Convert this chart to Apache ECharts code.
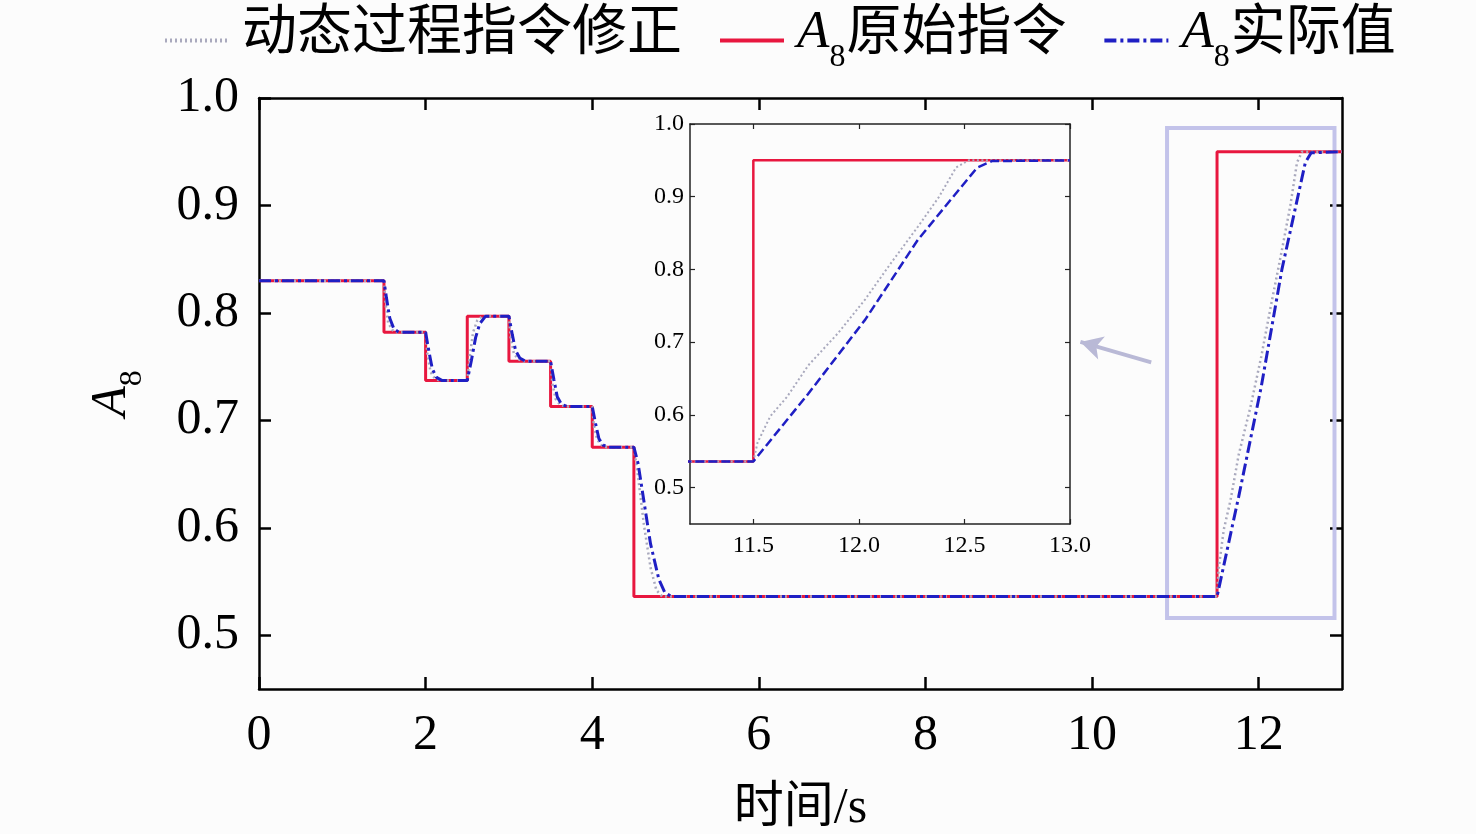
<!DOCTYPE html>
<html>
<head>
<meta charset="utf-8">
<script src="https://cdn.jsdelivr.net/npm/echarts@6/dist/echarts.min.js"></script>
<style>
html,body{margin:0;padding:0;background:#fcfcfc;overflow:hidden;}
#c{width:1476px;height:834px;}
</style>
</head>
<body>
<div id="c"></div>
<script>
// ---- data ----
var seriesNames = ['动态过程指令修正', 'A8原始指令', 'A8实际值'];
var xTicksMain = [0, 2, 4, 6, 8, 10, 12];
var yTicksMain = [0.5, 0.6, 0.7, 0.8, 0.9, 1.0];
var xTicksInset = [11.5, 12.0, 12.5, 13.0];
var yTicksInset = [0.5, 0.6, 0.7, 0.8, 0.9, 1.0];

var commandOriginal = [
  [0, 0.83], [1.5, 0.83], [1.5, 0.782], [2.0, 0.782], [2.0, 0.737],
  [2.5, 0.737], [2.5, 0.797], [3.0, 0.797], [3.0, 0.755], [3.5, 0.755],
  [3.5, 0.713], [4.0, 0.713], [4.0, 0.675], [4.5, 0.675], [4.5, 0.536],
  [11.5, 0.536], [11.5, 0.95], [13.0, 0.95]
];

var commandCorrected = [
  [0, 0.83], [1.5, 0.83], [1.52, 0.808], [1.55, 0.791], [1.6, 0.784], [1.65, 0.782],
  [2.0, 0.782], [2.02, 0.762], [2.06, 0.745], [2.11, 0.739], [2.17, 0.737],
  [2.5, 0.737], [2.53, 0.76], [2.57, 0.782], [2.62, 0.793], [2.68, 0.797],
  [3.0, 0.797], [3.02, 0.777], [3.06, 0.762], [3.11, 0.757], [3.17, 0.755],
  [3.5, 0.755], [3.52, 0.735], [3.56, 0.72], [3.61, 0.715], [3.67, 0.713],
  [4.0, 0.713], [4.02, 0.695], [4.06, 0.682], [4.11, 0.677], [4.17, 0.675],
  [4.5, 0.675], [4.55, 0.648], [4.62, 0.603], [4.7, 0.563], [4.77, 0.542], [4.84, 0.536],
  [11.5, 0.536], [11.52, 0.562], [11.58, 0.598], [11.66, 0.625], [11.76, 0.668],
  [11.9, 0.712], [12.03, 0.759], [12.15, 0.808], [12.28, 0.859], [12.38, 0.9],
  [12.46, 0.94], [12.52, 0.95], [13.0, 0.95]
];

var actualValue = [
  [0, 0.83], [1.5, 0.83], [1.53, 0.814], [1.57, 0.795], [1.62, 0.785], [1.68, 0.782],
  [2.0, 0.782], [2.04, 0.764], [2.08, 0.748], [2.13, 0.740], [2.2, 0.737],
  [2.5, 0.737], [2.55, 0.756], [2.6, 0.777], [2.65, 0.790], [2.72, 0.797],
  [3.0, 0.797], [3.04, 0.780], [3.08, 0.765], [3.13, 0.758], [3.2, 0.755],
  [3.5, 0.755], [3.54, 0.738], [3.58, 0.722], [3.63, 0.715], [3.7, 0.713],
  [4.0, 0.713], [4.04, 0.697], [4.08, 0.683], [4.13, 0.677], [4.2, 0.675],
  [4.5, 0.675], [4.55, 0.660], [4.6, 0.635], [4.7, 0.585], [4.8, 0.552], [4.87, 0.540], [4.95, 0.536],
  [11.5, 0.536], [11.76, 0.629], [12.03, 0.731], [12.28, 0.841], [12.56, 0.940],
  [12.63, 0.949], [13.0, 0.95]
];

// ---- styles ----
var SERIF = "'Liberation Serif','Times New Roman','Noto Sans CJK SC',serif";
var RED = '#e8173f';
var BLUE = '#1f1fc4';
var GRAY = '#a9a9bd';

function nameRich(name) {
  if (name.indexOf('A8') === 0) {
    return '{g|}{i|A}{s|8}{c|' + name.slice(2) + '}';
  }
  return '{g|}{c|' + name + '}';
}

var chart = echarts.init(document.getElementById('c'));

function mainAxisX(pos, showLabel) {
  return {
    type: 'value', gridIndex: 0, position: pos, min: 0, max: 13,
    axisLine: {show: true, onZero: false, lineStyle: {color: '#000', width: 2.5}},
    axisTick: {show: true, inside: true, length: 12, lineStyle: {color: '#000', width: 2.5}, customValues: xTicksMain},
    axisLabel: {show: showLabel, customValues: xTicksMain, margin: 22, color: '#000', fontSize: 50, fontFamily: SERIF},
    splitLine: {show: false},
    name: showLabel ? '时间/s' : '', nameLocation: 'middle', nameGap: 95,
    nameTextStyle: {color: '#000', fontSize: 50, fontFamily: SERIF}
  };
}
function mainAxisY(pos, showLabel) {
  return {
    type: 'value', gridIndex: 0, position: pos, min: 0.45, max: 1.0,
    axisLine: {show: true, onZero: false, lineStyle: {color: '#000', width: 2.5}},
    axisTick: {show: true, inside: true, length: 12, lineStyle: {color: '#000', width: 2.5}, customValues: yTicksMain},
    axisLabel: {show: showLabel, customValues: yTicksMain, margin: 20, color: '#000', fontSize: 50, fontFamily: SERIF,
      formatter: function (v) { return v.toFixed(1); }},
    splitLine: {show: false},
    name: showLabel ? '{i|A}{s|8}' : '', nameLocation: 'middle', nameGap: 110, nameRotate: 90,
    nameTextStyle: {rich: {
      i: {fontSize: 50, fontStyle: 'italic', fontFamily: SERIF, color: '#000', verticalAlign: 'bottom', padding: [0, 0, 12, 0]},
      s: {fontSize: 32, fontFamily: SERIF, color: '#000', verticalAlign: 'bottom'}
    }}
  };
}
function insetAxisX(pos, showLabel) {
  return {
    type: 'value', gridIndex: 1, position: pos, min: 11.2, max: 13.0,
    axisLine: {show: true, onZero: false, lineStyle: {color: '#222', width: 1.5}},
    axisTick: {show: true, inside: true, length: 5, lineStyle: {color: '#222', width: 1.2}, customValues: xTicksInset},
    axisLabel: {show: showLabel, customValues: xTicksInset, margin: 10, color: '#000', fontSize: 24, fontFamily: SERIF,
      formatter: function (v) { return v.toFixed(1); }},
    splitLine: {show: false}
  };
}
function insetAxisY(pos, showLabel) {
  return {
    type: 'value', gridIndex: 1, position: pos, min: 0.45, max: 1.0,
    axisLine: {show: true, onZero: false, lineStyle: {color: '#222', width: 1.5}},
    axisTick: {show: true, inside: true, length: 5, lineStyle: {color: '#222', width: 1.2}, customValues: yTicksInset},
    axisLabel: {show: showLabel, customValues: yTicksInset, margin: 6, color: '#000', fontSize: 24, fontFamily: SERIF,
      formatter: function (v) { return v.toFixed(1); }},
    splitLine: {show: false}
  };
}

function lineSeries(name, data, style, xi, yi, extra) {
  var s = {
    name: name, type: 'line', data: data, xAxisIndex: xi, yAxisIndex: yi,
    showSymbol: false, symbol: 'none', animation: false, clip: true,
    lineStyle: style, itemStyle: {color: style.color}, z: 2
  };
  if (extra) { for (var k in extra) s[k] = extra[k]; }
  return s;
}

var styleGray = {color: GRAY, width: 2.5, type: [2, 3]};
var styleRed = {color: RED, width: 3, type: 'solid'};
var styleBlue = {color: BLUE, width: 3, type: [12, 4, 3, 4]};
var styleGrayIn = {color: GRAY, width: 2, type: [2, 2.5]};
var styleRedIn = {color: RED, width: 2.5, type: 'solid'};
var styleBlueIn = {color: BLUE, width: 2.5, type: [9, 4]};

var option = {
  backgroundColor: '#fcfcfc',
  animation: false,
  legend: {
    top: 2, left: 158, itemWidth: 64, itemHeight: 20, itemGap: 36,
    data: seriesNames,
    formatter: nameRich,
    itemStyle: {opacity: 0},
    lineStyle: {width: 4},
    textStyle: {rich: {
      g: {width: 8},
      c: {fontSize: 55, fontFamily: SERIF, color: '#000', verticalAlign: 'bottom', padding: [0, 0, 12, 0]},
      i: {fontSize: 53, fontStyle: 'italic', fontFamily: SERIF, color: '#000', verticalAlign: 'bottom', padding: [0, 0, 14, 0]},
      s: {fontSize: 32, fontFamily: SERIF, color: '#000', verticalAlign: 'bottom', padding: [0, 1, 0, 0]}
    }}
  },
  grid: [
    {left: 259, right: 134, top: 98, bottom: 145, outerBoundsMode: 'none', containLabel: false},
    {left: 690, top: 124, width: 380, height: 400, show: true, backgroundColor: '#fcfcfc', borderWidth: 0, outerBoundsMode: 'none', containLabel: false}
  ],
  xAxis: [mainAxisX('bottom', true), mainAxisX('top', false), insetAxisX('bottom', true), insetAxisX('top', false)],
  yAxis: [mainAxisY('left', true), mainAxisY('right', false), insetAxisY('left', true), insetAxisY('right', false)],
  series: [
    lineSeries(seriesNames[1], commandOriginal, styleRed, 0, 0, {z: 2}),
    lineSeries(seriesNames[0], commandCorrected, styleGray, 0, 0, {z: 3}),
    lineSeries(seriesNames[2], actualValue, styleBlue, 0, 0, {
      z: 4,
      markArea: {
        silent: true,
        itemStyle: {color: 'rgba(0,0,0,0)', borderColor: '#c3c3ea', borderWidth: 4},
        data: [[{xAxis: 10.9, yAxis: 0.972}, {xAxis: 12.91, yAxis: 0.516}]]
      },
      markLine: {
        silent: true, symbol: ['none', 'arrow'], symbolSize: [18, 22],
        label: {show: false},
        lineStyle: {color: '#b9b9d6', width: 4, type: 'solid'},
        data: [[{coord: [10.71, 0.754]}, {coord: [9.86, 0.773]}]]
      }
    }),
    lineSeries(seriesNames[1], commandOriginal, styleRedIn, 2, 2, {z: 6}),
    lineSeries(seriesNames[0], commandCorrected, styleGrayIn, 2, 2, {z: 7}),
    lineSeries(seriesNames[2], actualValue, styleBlueIn, 2, 2, {z: 8})
  ]
};
chart.setOption(option);
</script>
</body>
</html>
